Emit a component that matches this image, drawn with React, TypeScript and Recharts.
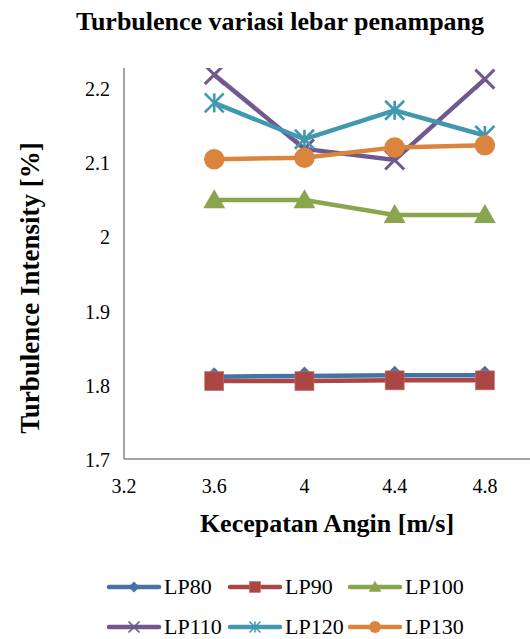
import React from 'react';
import { LineChart, Line, XAxis, YAxis, Legend, Label } from 'recharts';

const FONT = '"Liberation Serif", "Times New Roman", Times, serif';

// Wind speed (m/s) at each measurement point
const windSpeeds = [3.6, 4.0, 4.4, 4.8];

// Turbulence intensity (%) for each cross-section width
const lp80 = [1.811, 1.812, 1.813, 1.813];
const lp90 = [1.805, 1.805, 1.806, 1.806];
const lp100 = [2.049, 2.049, 2.029, 2.029];
const lp110 = [2.218, 2.118, 2.103, 2.212];
const lp120 = [2.180, 2.131, 2.170, 2.136];
const lp130 = [2.104, 2.106, 2.120, 2.123];

const xTicks = [3.2, 3.6, 4.0, 4.4, 4.8];
const yTicks = [1.7, 1.8, 1.9, 2.0, 2.1, 2.2];

type MarkerKind = 'diamond' | 'square' | 'triangle' | 'cross' | 'star' | 'circle';

const series: { key: string; values: number[]; color: string; marker: MarkerKind }[] = [
  { key: 'LP80', values: lp80, color: '#4572A7', marker: 'diamond' },
  { key: 'LP90', values: lp90, color: '#AA4643', marker: 'square' },
  { key: 'LP100', values: lp100, color: '#89A54E', marker: 'triangle' },
  { key: 'LP110', values: lp110, color: '#71588F', marker: 'cross' },
  { key: 'LP120', values: lp120, color: '#4198AF', marker: 'star' },
  { key: 'LP130', values: lp130, color: '#DB843D', marker: 'circle' },
];

const data = windSpeeds.map((x, i) => {
  const row: Record<string, number> = { x };
  series.forEach((s) => {
    row[s.key] = s.values[i];
  });
  return row;
});

function Marker({ cx, cy, kind, color, size }: { cx: number; cy: number; kind: MarkerKind; color: string; size: number }) {
  const h = size / 2;
  switch (kind) {
    case 'diamond':
      return <polygon points={`${cx},${cy - h} ${cx + h},${cy} ${cx},${cy + h} ${cx - h},${cy}`} fill={color} />;
    case 'square':
      return <rect x={cx - h} y={cy - h} width={size} height={size} fill={color} stroke="#C0706E" strokeWidth={0.6} />;
    case 'triangle': {
      const t = h * 1.15;
      return <polygon points={`${cx},${cy - t} ${cx + t},${cy + t * 0.75} ${cx - t},${cy + t * 0.75}`} fill={color} />;
    }
    case 'cross':
      return (
        <g stroke={color} strokeWidth={size * 0.16}>
          <line x1={cx - h} y1={cy - h} x2={cx + h} y2={cy + h} />
          <line x1={cx - h} y1={cy + h} x2={cx + h} y2={cy - h} />
        </g>
      );
    case 'star':
      return (
        <g stroke={color} strokeWidth={size * 0.14}>
          <line x1={cx - h} y1={cy - h} x2={cx + h} y2={cy + h} />
          <line x1={cx - h} y1={cy + h} x2={cx + h} y2={cy - h} />
          <line x1={cx} y1={cy - h} x2={cx} y2={cy + h} />
        </g>
      );
    case 'circle':
    default:
      return <circle cx={cx} cy={cy} r={h * 1.08} fill={color} />;
  }
}

function XTick(props: any) {
  const { x, y, payload } = props;
  return (
    <text x={x} y={y} dy="0.71em" textAnchor="middle" fontSize={20} fontFamily={FONT} fill="#000">
      {String(payload.value)}
    </text>
  );
}

function YTick(props: any) {
  const { x, y, payload } = props;
  return (
    <text x={x} y={y} dy="0.4em" textAnchor="end" fontSize={20} fontFamily={FONT} fill="#000">
      {String(payload.value)}
    </text>
  );
}

const legendCols = [105, 226, 346];
const legendRows = [17, 57];

function LegendBox() {
  return (
    <div style={{ position: 'relative', width: 530, height: 69, fontFamily: FONT }}>
      {series.map((s, i) => {
        const left = legendCols[i % 3];
        const top = legendRows[Math.floor(i / 3)] - 10;
        return (
          <div key={s.key} style={{ position: 'absolute', left, top, height: 20, display: 'flex', alignItems: 'center' }}>
            <svg width={58} height={20} style={{ display: 'block' }}>
              <line x1={4} y1={10} x2={54} y2={10} stroke={s.color} strokeWidth={4.5} strokeLinecap="round" />
              <Marker cx={29} cy={10} kind={s.marker} color={s.color} size={11} />
            </svg>
            <span style={{ fontSize: 22, color: '#000', lineHeight: '20px', marginLeft: 1, fontFamily: FONT }}>{s.key}</span>
          </div>
        );
      })}
    </div>
  );
}

export default function App() {
  return (
    <div style={{ position: 'absolute', left: 0, top: 0, width: 530, height: 639, background: '#fff', fontFamily: FONT }}>
      <div
        style={{
          position: 'absolute',
          left: 30,
          width: 500,
          top: 9,
          textAlign: 'center',
          fontSize: 26,
          lineHeight: '26px',
          fontWeight: 'bold',
          color: '#000',
        }}
      >
        Turbulence variasi lebar penampang
      </div>
      <LineChart width={530} height={639} data={data} margin={{ top: 68, right: 0, bottom: 0, left: 0 }}>
        <XAxis
          type="number"
          dataKey="x"
          domain={[3.2, 5.0]}
          ticks={xTicks}
          allowDataOverflow
          height={111}
          tickLine={false}
          tickMargin={14}
          axisLine={{ stroke: '#868686', strokeWidth: 1.5 }}
          tick={<XTick />}
        >
          <Label
            content={(props: any) => {
              const vb = props.viewBox || { x: 124, y: 459, width: 406 };
              return (
                <text
                  x={vb.x + vb.width / 2}
                  y={vb.y + 73}
                  textAnchor="middle"
                  fontSize={26}
                  fontWeight="bold"
                  fontFamily={FONT}
                  fill="#000"
                >
                  Kecepatan Angin [m/s]
                </text>
              );
            }}
          />
        </XAxis>
        <YAxis
          type="number"
          domain={[1.7, 2.227]}
          ticks={yTicks}
          allowDataOverflow
          width={124}
          tickLine={false}
          tickMargin={8}
          axisLine={{ stroke: '#868686', strokeWidth: 1.5 }}
          tick={<YTick />}
        >
          <Label
            content={() => (
              <text
                transform="translate(30, 288) rotate(-90)"
                textAnchor="middle"
                dy="0.35em"
                fontSize={27}
                fontWeight="bold"
                fontFamily={FONT}
                fill="#000"
              >
                Turbulence Intensity [%]
              </text>
            )}
          />
        </YAxis>
        <Legend verticalAlign="bottom" content={() => <LegendBox />} />
        {series.map((s) => (
          <Line
            key={s.key}
            type="linear"
            dataKey={s.key}
            stroke={s.color}
            strokeWidth={4.5}
            isAnimationActive={false}
            activeDot={false}
            dot={(p: any) => (
              <Marker key={`${s.key}-${p.index}`} cx={p.cx} cy={p.cy} kind={s.marker} color={s.color} size={19} />
            )}
          />
        ))}
      </LineChart>
    </div>
  );
}
